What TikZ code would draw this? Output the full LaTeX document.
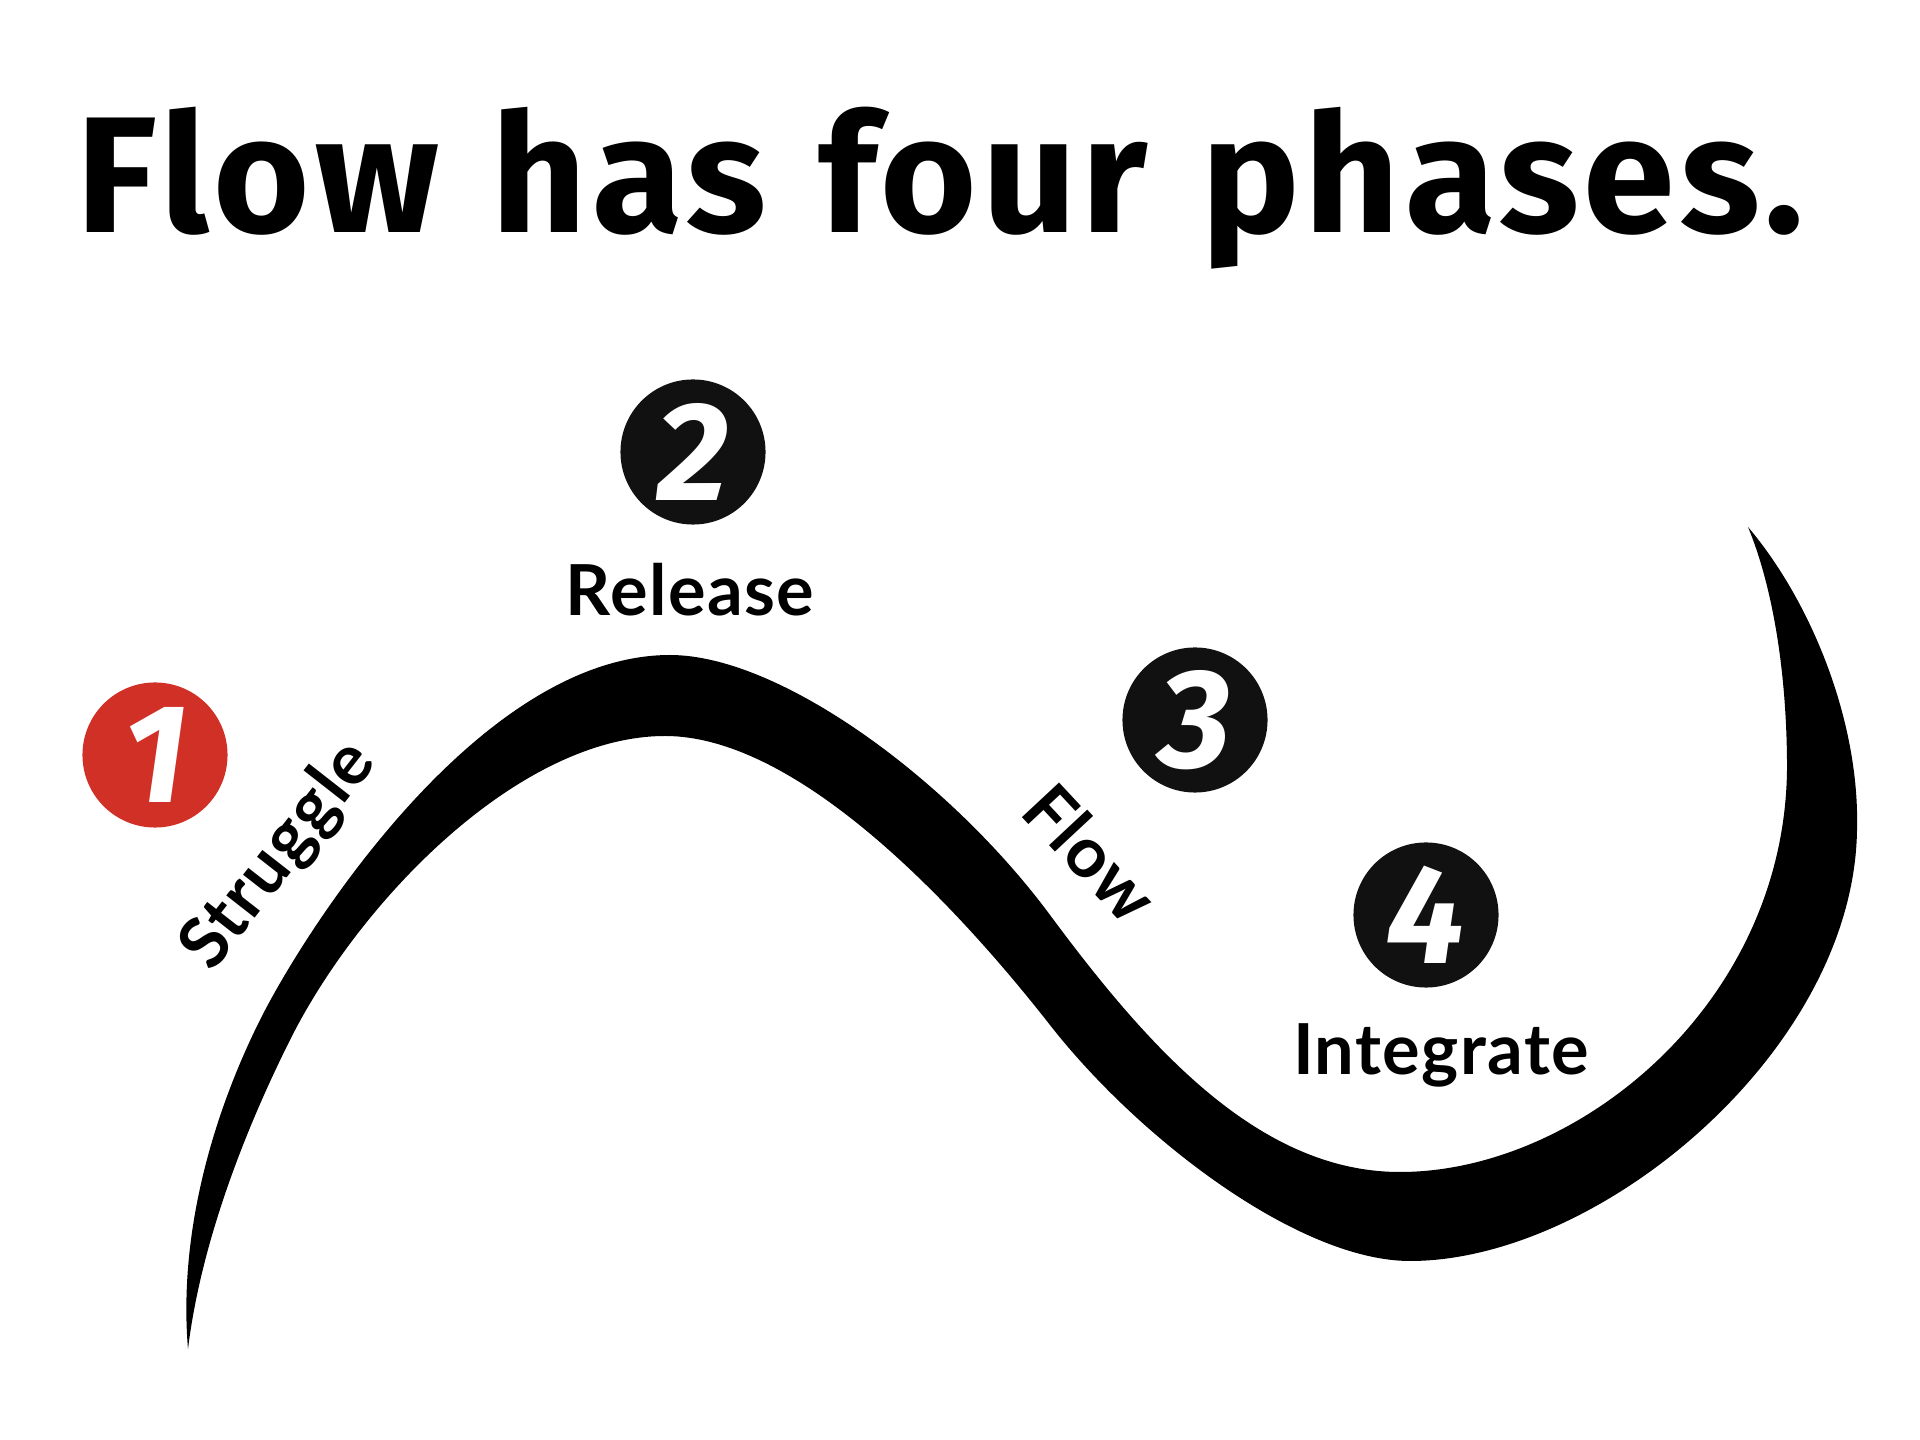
\documentclass[tikz,border=0pt]{standalone}
\usepackage{fontspec}
\newfontfamily\titlefont{Fira Sans}[LetterSpace=3,WordSpace=1.2]
\newfontfamily\labfont{Lato}[LetterSpace=2]
\newfontfamily\digfont{Fira Sans}
\definecolor{circred}{RGB}{208,48,38}
\definecolor{circblack}{RGB}{17,17,17}
\begin{document}
\begin{tikzpicture}[x=0.01cm,y=-0.01cm,
  phase/.style={font=\labfont\bfseries\fontsize{20}{20}\selectfont, text=black, inner sep=0},
  num/.style={circle, fill=circblack, minimum size=1.45cm, inner sep=0, text=white,
    font=\digfont\bfseries\itshape\fontsize{40}{40}\selectfont}]
\useasboundingbox (0,0) rectangle (1920,1440);
\fill[white] (0,0) rectangle (1920,1440);
\node[anchor=base west, inner sep=0, font=\titlefont\bfseries\fontsize{47}{47}\selectfont] (title) at (76,233) {Flow has four phases.};
% wave (tapered brush stroke)
\fill[black] (188,1349)
  .. controls (178,1230) and (215,1110) .. (260,1020)
  .. controls (305,930) and (480,655) .. (670,655)
  .. controls (780,655) and (950,780) .. (1050,915)
  .. controls (1150,1050) and (1260,1172) .. (1400,1172)
  .. controls (1580,1172) and (1790,1000) .. (1787,760)
  .. controls (1786,660) and (1770,580) .. (1748,527)
  .. controls (1810,600) and (1860,720) .. (1857,830)
  .. controls (1854,1050) and (1600,1261) .. (1410,1261)
  .. controls (1300,1261) and (1140,1140) .. (1050,1025)
  .. controls (960,910) and (800,736) .. (665,736)
  .. controls (520,736) and (360,900) .. (290,1040)
  .. controls (240,1140) and (200,1250) .. (188,1349) -- cycle;
% circles
\node[num, fill=circred] (c1) at (155,755) {1};
\node[num] (c2) at (693,452) {2};
\node[num] (c3) at (1195,720) {3};
\node[num] (c4) at (1426,915) {4};
% labels
\node[phase, anchor=base] (release) at (690,616) {Release};
\node[phase, anchor=base] (integrate) at (1441,1075) {Integrate};
\node[phase, rotate=52] (struggle) at (279,856) {Struggle};
\node[phase, rotate=-47] (flow) at (1091,853) {Flow};
\end{tikzpicture}
\end{document}
